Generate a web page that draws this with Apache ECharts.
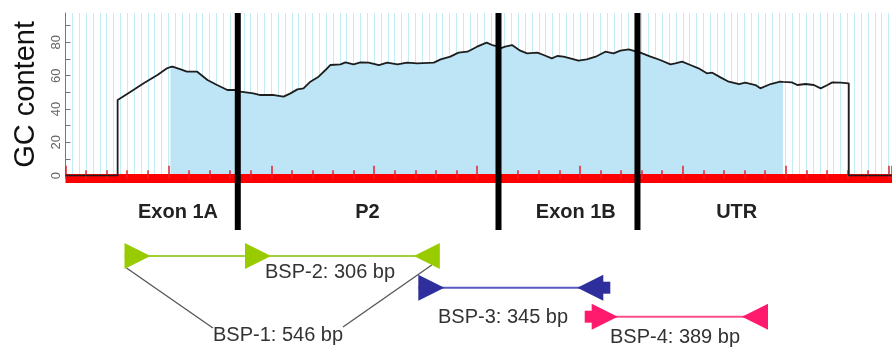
<!DOCTYPE html>
<html><head><meta charset="utf-8">
<script src="https://cdn.jsdelivr.net/npm/echarts@6/dist/echarts.min.js"></script>
<style>html,body{margin:0;padding:0;background:#fff}#c{width:892px;height:350px}</style>
</head><body><div id="c"></div>
<script>
// ---- GC content profile (sequence position units, GC %) ----
const gcPos = [0, 7.6, 7.6, 9.5, 11.4, 13.4, 14.8, 15.3, 15.6, 16.8, 17.7, 19.2, 20.7, 22.1, 23.6, 24.8,
  25.5, 27.4, 28.4, 30.4, 31.8, 32.8, 33.8, 34.7, 35.7, 36.9, 37.9, 38.6, 40.1, 40.8, 42.0, 43.0, 44.2,
  45.7, 46.9, 48.4, 49.8, 51.3, 53.7, 54.7, 56.1, 57.3, 58.6, 60.0, 61.4, 62.2, 62.9, 63.4, 64.1, 65.1,
  66.3, 67.3, 68.8, 69.7, 70.9, 71.7, 72.6, 73.6, 74.8, 76.0, 77.3, 78.7, 79.9, 80.9, 82.1, 83.8, 85.3,
  86.7, 88.2, 88.9, 89.9, 91.1, 92.3, 93.5, 94.3, 95.5, 96.7, 98.2, 99.1, 100.6, 101.3, 102.8, 104.2,
  104.6, 105.9, 106.7, 107.9, 109.1, 110.1, 111.1, 111.8, 113.0, 114.2, 114.2, 120.5];
const gcVal = [0, 0, 45.4, 50.4, 55.4, 60.4, 64.4, 65.2, 65.4, 63.8, 62.4, 62.4, 57.4, 54.4, 51.4, 51.4,
  50.4, 49.4, 48.4, 48.4, 47.4, 49.4, 51.8, 52.4, 56.4, 59.4, 63.4, 66.4, 66.8, 68.0, 66.8, 68.0, 67.8,
  66.4, 67.8, 66.8, 67.8, 67.4, 67.8, 69.8, 71.4, 73.8, 74.4, 77.4, 79.8, 78.4, 77.8, 76.4, 77.4, 78.4,
  75.0, 73.4, 73.8, 72.4, 70.4, 71.8, 71.4, 70.4, 69.0, 69.8, 71.4, 74.4, 73.4, 75.0, 75.8, 73.8, 71.4,
  69.4, 66.8, 67.4, 68.4, 66.4, 64.4, 61.4, 61.8, 59.0, 56.4, 55.0, 55.8, 54.4, 52.4, 55.0, 56.4,
  56.3, 56.0, 54.4, 55.0, 54.4, 52.4, 54.4, 56.0, 55.8, 55.4, 0, 0];
const fillRange = [15.3, 104.6];          // shaded (CpG island) range
const yTickValues = [0, 10, 20, 30, 40, 50, 60, 70, 80, 90];
const yLabelValues = [0, 20, 40, 60, 80];

// ---- regions ----
const regionNames = ['Exon 1A', 'P2', 'Exon 1B', 'UTR'];
const regionCenters = [16.4, 44.03, 74.4, 97.86];
const regionBounds = [25.12, 63.13, 83.39];

// ---- primers / amplicons ----
const primerPos   = [8.60, 26.17, 54.57, 51.44, 78.41, 76.72, 102.42];
const primerDir   = [1, 1, -1, 1, -1, 1, -1];
const primerTrack = [1, 1, 1, 2, 2, 3, 3];
const primerTail  = [0, 0, 0, 0, 1, 1, 0];
const ampliconNames = ['BSP-1', 'BSP-2', 'BSP-3', 'BSP-4'];
const ampliconSizes = [546, 306, 345, 389];
const ampliconFwd = [0, 1, 3, 5];
const ampliconRev = [2, 2, 4, 6];

// ---- layout / style (not data) ----
const X_MAX = 120.5, Y_MAX = 97.6;
const TRACK_ROW = {1: 25.6, 2: 28.77, 3: 31.67};
const TRACK_COLOR = {1: '#99cc00', 2: '#2e2e9c', 3: '#ff1a6e'};
const TRACK_LINE = {1: '#a3d13c', 2: '#5a5ac4', 3: '#ff4d8c'};
const LABEL_AT = [[21.5, 33.5], [29.09, 27.2], [54.31, 31.7], [79.38, 33.7]];
const BOUND_ROWS = [1.3, 23.0];
const REGION_ROW = 21.25;
const FONT = '"Liberation Sans", Arial, sans-serif';

const gcData = gcPos.map((p, i) => [p, gcVal[i]]);
const fillData = gcData.filter(d => d[0] >= fillRange[0] && d[0] <= fillRange[1]);

const tracks = [1, 2, 3].map(t => {
  const ps = primerPos.filter((p, i) => primerTrack[i] === t);
  return [Math.min(...ps), Math.max(...ps), t];
});

const chart = echarts.init(document.getElementById('c'), null, {renderer: 'canvas'});
chart.setOption({
  animation: false,
  backgroundColor: '#ffffff',
  grid: [
    {left: 65.5, right: 0, top: 13, bottom: 174.3},
    {left: 65.5, right: 0, top: 0, bottom: 0}
  ],
  xAxis: [
    {gridIndex: 0, type: 'value', min: 0, max: X_MAX, interval: 15, position: 'bottom', offset: 3, z: 4,
     axisLine: {onZero: false, lineStyle: {color: '#ff0000', width: 9, cap: 'butt'}},
     axisTick: {inside: true, length: 13, lineStyle: {color: '#e8202a', width: 1.5}},
     axisLabel: {show: false}, splitLine: {show: false}},
    {gridIndex: 0, type: 'value', min: 0, max: X_MAX, interval: 3, position: 'bottom', offset: 3, z: 4,
     axisLine: {show: false, onZero: false},
     axisTick: {inside: true, length: 8.5, lineStyle: {color: '#e8202a', width: 1.5}},
     axisLabel: {show: false}, splitLine: {show: false}},
    {gridIndex: 0, type: 'value', min: 0, max: X_MAX, interval: 1, position: 'bottom', z: 0,
     axisLine: {show: false, onZero: false}, axisTick: {show: false}, axisLabel: {show: false},
     splitLine: {show: true, lineStyle: {color: '#c2ecf6', width: 1}}},
    {gridIndex: 1, type: 'value', min: 0, max: X_MAX, show: false}
  ],
  yAxis: [
    {gridIndex: 0, type: 'value', min: 0, max: Y_MAX, interval: 10,
     name: 'GC content', nameLocation: 'middle', nameGap: 25,
     nameTextStyle: {fontSize: 29, color: '#111', fontFamily: FONT},
     axisLine: {show: true, lineStyle: {color: '#777', width: 1}},
     axisTick: {show: true, inside: true, length: 5, customValues: yTickValues, lineStyle: {color: '#777'}},
     axisLabel: {rotate: 90, fontSize: 13, color: '#666', margin: 3, fontFamily: FONT,
                 customValues: yLabelValues,
                 formatter: v => (v % 20 === 0 && v <= 80 ? String(v) : '')},
     splitLine: {show: false}},
    {gridIndex: 1, type: 'value', min: 0, max: 35, inverse: true, show: false}
  ],
  series: [
    {type: 'line', xAxisIndex: 0, yAxisIndex: 0, data: fillData, showSymbol: false, silent: true,
     lineStyle: {width: 0}, areaStyle: {color: '#bee5f5', opacity: 1}, z: 2},
    {type: 'line', xAxisIndex: 0, yAxisIndex: 0, data: gcData, showSymbol: false, silent: true,
     lineStyle: {color: '#1e1e1e', width: 1.8}, z: 6},
    // region boundaries
    {type: 'custom', xAxisIndex: 3, yAxisIndex: 1, data: regionBounds.map(b => [b]), z: 10, silent: true,
     renderItem: (params, api) => {
       const a = api.coord([api.value(0), BOUND_ROWS[0]]);
       const b = api.coord([api.value(0), BOUND_ROWS[1]]);
       return {type: 'line', shape: {x1: a[0], y1: a[1], x2: b[0], y2: b[1]},
               style: {stroke: '#000', lineWidth: 6}};
     }},
    // region labels
    {type: 'custom', xAxisIndex: 3, yAxisIndex: 1, data: regionCenters.map((c, i) => [c, i]), z: 10, silent: true,
     renderItem: (params, api) => {
       const p = api.coord([api.value(0), REGION_ROW]);
       return {type: 'text', style: {text: regionNames[api.value(1)], x: p[0], y: p[1],
               align: 'center', verticalAlign: 'middle', font: 'bold 20px ' + FONT, fill: '#222'}};
     }},
    // track lines
    {type: 'custom', xAxisIndex: 3, yAxisIndex: 1, data: tracks, z: 10, silent: true,
     renderItem: (params, api) => {
       const t = api.value(2);
       const a = api.coord([api.value(0), TRACK_ROW[t]]);
       const b = api.coord([api.value(1), TRACK_ROW[t]]);
       return {type: 'line', shape: {x1: a[0], y1: a[1], x2: b[0], y2: b[1]},
               style: {stroke: TRACK_LINE[t], lineWidth: 2}};
     }},
    // BSP-1 connector lines
    {type: 'custom', xAxisIndex: 3, yAxisIndex: 1, data: [[0]], z: 10, silent: true,
     renderItem: (params, api) => {
       const i = api.value(0);
       const f = ampliconFwd[i], r = ampliconRev[i];
       const pf = api.coord([primerPos[f], TRACK_ROW[primerTrack[f]]]);
       const pr = api.coord([primerPos[r], TRACK_ROW[primerTrack[r]]]);
       const lab = api.coord(LABEL_AT[i]);
       const st = {stroke: '#555', lineWidth: 1.3};
       return {type: 'group', children: [
         {type: 'line', shape: {x1: pf[0] + 2, y1: pf[1] + 12, x2: lab[0], y2: lab[1] - 7}, style: st},
         {type: 'line', shape: {x1: lab[0] + 130, y1: lab[1] - 8, x2: pr[0] - 8, y2: pr[1] + 9}, style: st}
       ]};
     }},
    // primers
    {type: 'custom', xAxisIndex: 3, yAxisIndex: 1, z: 11, silent: true,
     data: primerPos.map((p, i) => [p, primerDir[i], primerTrack[i], primerTail[i]]),
     renderItem: (params, api) => {
       const dir = api.value(1), t = api.value(2), tail = api.value(3);
       const p = api.coord([api.value(0), TRACK_ROW[t]]);
       const w = 26, h = 13, col = TRACK_COLOR[t];
       const children = [{type: 'polygon',
         shape: {points: [[p[0], p[1] - h], [p[0] + dir * w, p[1]], [p[0], p[1] + h]]},
         style: {fill: col}}];
       if (tail) {
         children.push({type: 'rect', shape: {x: dir > 0 ? p[0] - 7 : p[0] - 1, y: p[1] - 6, width: 8, height: 12},
                        style: {fill: col}});
       }
       return {type: 'group', children};
     }},
    // amplicon labels
    {type: 'custom', xAxisIndex: 3, yAxisIndex: 1, z: 12, silent: true,
     data: ampliconNames.map((n, i) => [LABEL_AT[i][0], LABEL_AT[i][1], i]),
     renderItem: (params, api) => {
       const i = api.value(2);
       const p = api.coord([api.value(0), api.value(1)]);
       return {type: 'text', style: {text: ampliconNames[i] + ': ' + ampliconSizes[i] + ' bp',
               x: p[0], y: p[1], align: 'left', verticalAlign: 'middle',
               font: '20px ' + FONT, fill: '#333'}};
     }}
  ]
});
</script>
</body></html>
